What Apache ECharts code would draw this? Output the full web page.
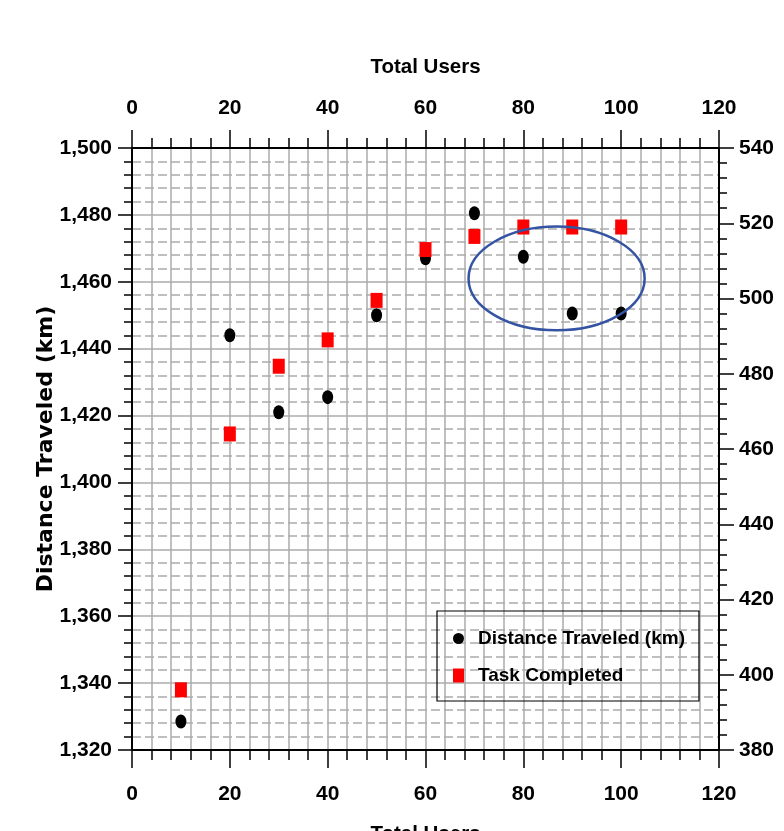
<!DOCTYPE html>
<html>
<head>
<meta charset="utf-8">
<script src="https://cdn.jsdelivr.net/npm/echarts@6/dist/echarts.min.js"></script>
<style>
  html, body { margin: 0; padding: 0; background: #ffffff; }
  #chart { width: 784px; height: 831px; }
</style>
</head>
<body>
<div id="chart"></div>
<script>
// Users on the x axis, distance (left axis) and completed tasks (right axis)
var users = [10, 20, 30, 40, 50, 60, 70, 80, 90, 100];
var distanceKm = [1328.5, 1444, 1421, 1425.5, 1450, 1467, 1480.5, 1467.5, 1450.5, 1450.5];
var tasksCompleted = [396, 464, 482, 489, 499.5, 513, 516.5, 519, 519, 519];

var xTicks = { min: 0, max: 120, step: 20 };
var leftTicks = { min: 1320, max: 1500, step: 20 };
var rightTicks = { min: 380, max: 540, step: 20 };

// Region highlighted by the ellipse (users, km)
var highlight = { cx: 86.8, cy: 1461, rx: 18, ry: 15.5 };

var FONT = "'Liberation Sans', Arial, sans-serif";
var GRID_GREY = '#ababab';

function pairs(xs, ys) {
  return xs.map(function (x, i) { return [x, ys[i]]; });
}

function xAxisDef(position, nameGap, labelMargin, showGrid) {
  return {
    type: 'value',
    position: position,
    min: xTicks.min, max: xTicks.max, interval: xTicks.step,
    name: 'Total Users',
    nameLocation: 'middle',
    nameGap: nameGap,
    nameTextStyle: { fontFamily: FONT, fontWeight: 'bold', fontSize: 20.5, color: '#000' },
    axisLine: { show: true, onZero: false, lineStyle: { color: '#000', width: 2 } },
    axisTick: { show: true, inside: false, length: 18, lineStyle: { color: '#000', width: 1.5 } },
    minorTick: { show: true, splitNumber: 5, length: 10, lineStyle: { color: '#000', width: 1.5 } },
    axisLabel: { margin: labelMargin, fontFamily: FONT, fontWeight: 'bold', fontSize: 21, color: '#000' },
    splitLine: { show: showGrid, lineStyle: { color: GRID_GREY, width: 1.5, type: 'solid' } },
    minorSplitLine: { show: showGrid, lineStyle: { color: GRID_GREY, width: 1.5, type: 'solid' } }
  };
}

var chart = echarts.init(document.getElementById('chart'), null, { renderer: 'canvas' });

var option = {
  backgroundColor: '#ffffff',
  animation: false,
  grid: { left: 132, top: 148, width: 587, height: 602, containLabel: false, outerBoundsMode: 'none' },
  legend: {
    orient: 'vertical',
    left: 437, top: 611,
    width: 235,
    padding: [18, 14, 16, 16],
    borderColor: '#000', borderWidth: 1.2, borderRadius: 0,
    itemWidth: 11, itemHeight: 14, itemGap: 18,
    textStyle: { fontFamily: FONT, fontWeight: 'bold', fontSize: 19, color: '#000', padding: [0, 0, 0, 9] },
    data: [
      { name: 'Distance Traveled (km)', icon: 'circle' },
      { name: 'Task Completed', icon: 'rect' }
    ]
  },
  xAxis: [
    xAxisDef('bottom', 74, 34, true),
    xAxisDef('top', 70, 29, false)
  ],
  yAxis: [
    {
      type: 'value',
      position: 'left',
      min: leftTicks.min, max: leftTicks.max, interval: leftTicks.step,
      name: 'Distance Traveled (km)',
      nameLocation: 'middle',
      nameGap: 75,
      nameMoveOverlap: false,
      nameTextStyle: { fontFamily: "'DejaVu Sans', sans-serif", fontWeight: 'bold', fontSize: 22, color: '#000' },
      axisLine: { show: true, onZero: false, lineStyle: { color: '#000', width: 2 } },
      axisTick: { show: true, length: 14, lineStyle: { color: '#000', width: 1.5 } },
      minorTick: { show: true, splitNumber: 5, length: 8, lineStyle: { color: '#000', width: 1.5 } },
      axisLabel: {
        margin: 20, fontFamily: FONT, fontWeight: 'bold', fontSize: 21, color: '#000',
        formatter: function (v) { return v.toLocaleString('en-US'); }
      },
      splitLine: { show: true, lineStyle: { color: GRID_GREY, width: 1.5, type: 'solid' } },
      minorSplitLine: { show: true, lineStyle: { color: GRID_GREY, width: 1.5, type: [9, 4] } }
    },
    {
      type: 'value',
      position: 'right',
      min: rightTicks.min, max: rightTicks.max, interval: rightTicks.step,
      axisLine: { show: true, onZero: false, lineStyle: { color: '#000', width: 2 } },
      axisTick: { show: true, length: 15, lineStyle: { color: '#000', width: 1.5 } },
      minorTick: { show: true, splitNumber: 5, length: 8, lineStyle: { color: '#000', width: 1.5 } },
      axisLabel: { margin: 20, fontFamily: FONT, fontWeight: 'bold', fontSize: 21, color: '#000' },
      splitLine: { show: false },
      minorSplitLine: { show: false }
    }
  ],
  series: [
    {
      name: 'Distance Traveled (km)',
      type: 'scatter',
      xAxisIndex: 0, yAxisIndex: 0,
      symbol: 'circle',
      symbolSize: [11, 14],
      itemStyle: { color: '#000000', opacity: 1 },
      data: pairs(users, distanceKm)
    },
    {
      name: 'Task Completed',
      type: 'scatter',
      xAxisIndex: 0, yAxisIndex: 1,
      symbol: 'rect',
      symbolSize: [12, 15],
      itemStyle: { color: '#ff0000', opacity: 1 },
      data: pairs(users, tasksCompleted)
    }
  ]
};

chart.setOption(option);

// Outline the cluster where distance flattens while tasks stay level
var c = chart.convertToPixel({ xAxisIndex: 0, yAxisIndex: 0 }, [highlight.cx, highlight.cy]);
var e = chart.convertToPixel({ xAxisIndex: 0, yAxisIndex: 0 }, [highlight.cx + highlight.rx, highlight.cy + highlight.ry]);
chart.setOption({
  graphic: [{
    type: 'ellipse',
    z: 100,
    shape: { cx: c[0], cy: c[1], rx: Math.abs(e[0] - c[0]), ry: Math.abs(c[1] - e[1]) },
    style: { fill: 'none', stroke: '#3453a3', lineWidth: 2.5 }
  }]
});
</script>
</body>
</html>
